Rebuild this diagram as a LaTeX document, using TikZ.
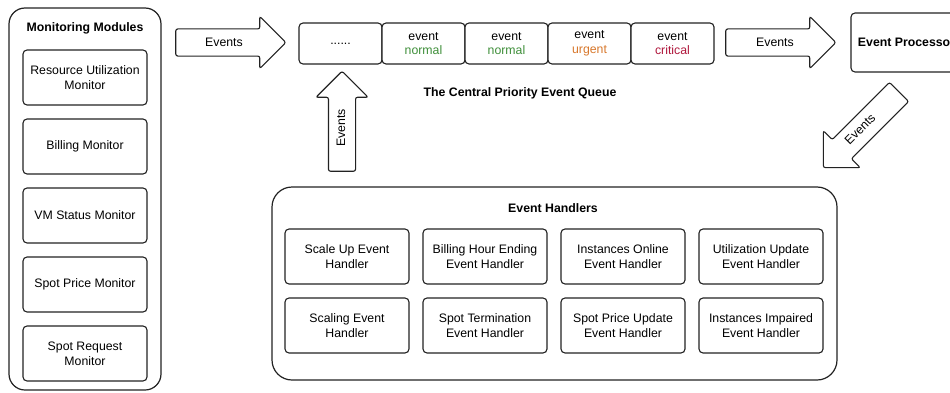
\documentclass[tikz,border=0pt]{standalone}
\usepackage{fontspec}
\setmainfont{Liberation Sans}
\usetikzlibrary{shapes.arrows}
\definecolor{lc}{HTML}{222222}
\definecolor{normalc}{HTML}{3F8F3A}
\definecolor{urgentc}{HTML}{D8782C}
\definecolor{criticalc}{HTML}{B0183D}
\tikzset{
  txt/.style={font=\fontsize{12.3}{14.8}\selectfont, text=black},
  btxt/.style={font=\fontsize{12.3}{14.8}\selectfont\bfseries, text=black},
  outerbox/.style={draw=lc, line width=1.2pt, rounded corners=16pt, fill=white},
  box/.style={draw=lc, line width=1.1pt, rounded corners=4pt, fill=white, txt, align=center, inner sep=0pt},
  fatarrow/.style={single arrow, draw=lc, line width=1.1pt, rounded corners=2pt, fill=white,
    inner xsep=0pt, inner ysep=13pt, minimum width=51pt, single arrow head extend=12.5pt, single arrow tip angle=90},
}
\begin{document}
\begin{tikzpicture}[x=1pt,y=1pt]
\clip (0,0) rectangle (950,392);
\fill[white] (0,0) rectangle (950,392);

% Monitoring modules
\node[outerbox, minimum width=152pt, minimum height=382pt] (mm) at (85,193) {};
\node[btxt] (mmt) at (85,364) {Monitoring Modules};
\node[box, minimum width=124pt, minimum height=55pt] (m1) at (85,314.5) {Resource Utilization\\Monitor};
\node[box, minimum width=124pt, minimum height=55pt] (m2) at (85,245.5) {Billing Monitor};
\node[box, minimum width=124pt, minimum height=55pt] (m3) at (85,176.5) {VM Status Monitor};
\node[box, minimum width=124pt, minimum height=55pt] (m4) at (85,107.5) {Spot Price Monitor};
\node[box, minimum width=124pt, minimum height=55pt] (m5) at (85,38.5) {Spot Request\\Monitor};

% arrow 1
\node[fatarrow, minimum height=110pt] (a1) at (224,349.5) {};
\node[txt] (a1t) at (224,349.5) {Events};

% queue
\node[box, minimum width=83pt, minimum height=41pt] (q0) at (340.5,348.5) {......};
\node[box, minimum width=83pt, minimum height=41pt] (q1) at (423.5,348.5) {event\\\textcolor{normalc}{normal}};
\node[box, minimum width=83pt, minimum height=41pt] (q2) at (506.5,348.5) {event\\\textcolor{normalc}{normal}};
\node[box, minimum width=83pt, minimum height=41pt] (q3) at (589.5,348.5) {event\\\textcolor{urgentc}{urgent}};
\node[box, minimum width=83pt, minimum height=41pt] (q4) at (672.5,348.5) {event\\\textcolor{criticalc}{critical}};
\node[btxt] (qt) at (520,299) {The Central Priority Event Queue};

% arrow 2
\node[fatarrow, minimum height=110pt] (a2) at (774,349.5) {};
\node[txt] (a2t) at (775,349.5) {Events};

% event processor
\node[box, btxt, minimum width=111pt, minimum height=59pt] (ep) at (906.5,349.5) {Event Processor};

% diagonal arrow
\node[fatarrow, minimum height=107pt, rotate=45, shape border rotate=180] (a3) at (866,267) {};
\node[txt, rotate=45] (a3t) at (860,263) {Events};

% up arrow
\node[fatarrow, minimum height=100pt, rotate=90] (a4) at (342,264) {};
\node[txt, rotate=90] (a4t) at (341,264) {Events};

% event handlers
\node[outerbox, rounded corners=20pt, minimum width=565pt, minimum height=193pt] (eh) at (554.5,108.5) {};
\node[btxt] (eht) at (553,184) {Event Handlers};
\foreach \nm/\x/\y/\t in {h1/347/135.5/{Scale Up Event\\Handler},
  h2/485/135.5/{Billing Hour Ending\\Event Handler},
  h3/623/135.5/{Instances Online\\Event Handler},
  h4/761/135.5/{Utilization Update\\Event Handler},
  h5/347/66.5/{Scaling Event\\Handler},
  h6/485/66.5/{Spot Termination\\Event Handler},
  h7/623/66.5/{Spot Price Update\\Event Handler},
  h8/761/66.5/{Instances Impaired\\Event Handler}}
  \node[box, minimum width=124pt, minimum height=55pt] (\nm) at (\x,\y) {\t};
\end{tikzpicture}
\end{document}
